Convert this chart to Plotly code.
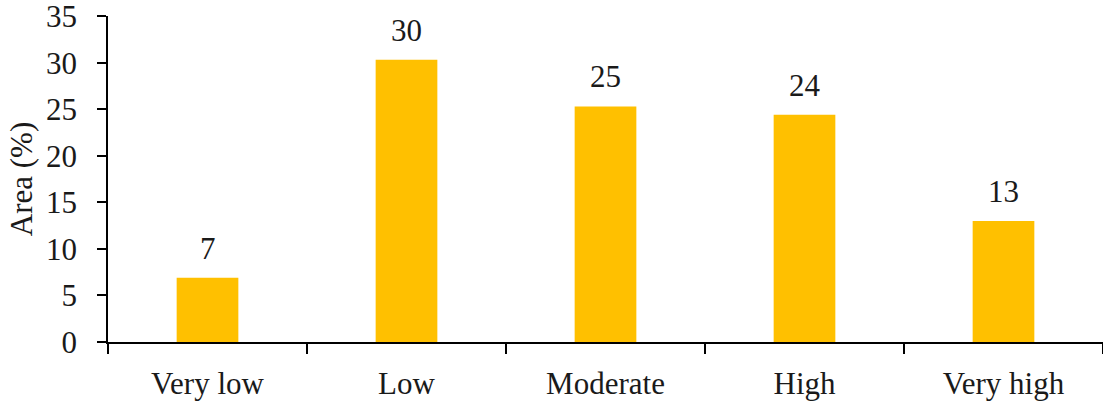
import plotly.graph_objects as go

categories = ["Very low", "Low", "Moderate", "High", "Very high"]
values = [6.9, 30.3, 25.3, 24.4, 13.0]
labels = ["7", "30", "25", "24", "13"]
y_ticks = [0, 5, 10, 15, 20, 25, 30, 35]

FONT = "Liberation Serif, Times New Roman, serif"

fig = go.Figure()
fig.add_trace(go.Bar(x=categories, y=values, marker=dict(color="#FFC000", line=dict(width=0)),
                     hoverinfo="skip"))

for c, v, t in zip(categories, values, labels):
    fig.add_annotation(x=c, y=v, text=t, showarrow=False, yanchor="bottom", yshift=10,
                       font=dict(family=FONT, size=31, color="#1a1a1a"))

fig.update_layout(
    width=1103, height=403,
    margin=dict(l=108, r=0, t=16, b=61, autoexpand=False),
    plot_bgcolor="white", paper_bgcolor="white",
    bargap=0.69, showlegend=False,
    font=dict(family=FONT, size=31, color="#1a1a1a"),
)
fig.update_xaxes(
    showline=True, linecolor="black", linewidth=1.5,
    ticks="outside", tickson="boundaries", ticklen=10, tickcolor="black", tickwidth=1.5,
    tickfont=dict(family=FONT, size=31), showgrid=False, ticklabelstandoff=13,
    ticklabeloverflow="allow",
)
fig.update_yaxes(
    range=[0, 35.01], tickvals=y_ticks, showline=True, linecolor="black", linewidth=1.5,
    ticks="outside", ticklen=9, tickcolor="black", tickwidth=1.5, showgrid=False, zeroline=False,
    tickfont=dict(family=FONT, size=31), ticklabelstandoff=14, ticklabeloverflow="allow",
    title=dict(text="Area (%)", font=dict(family=FONT, size=31), standoff=4),
)

fig.write_html("out.html", config={"displayModeBar": False},
               post_script="document.body.style.margin='0';document.body.style.overflow='hidden';")
